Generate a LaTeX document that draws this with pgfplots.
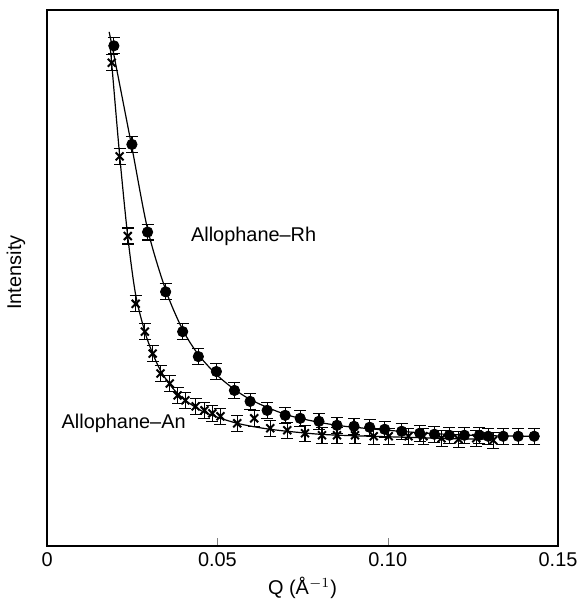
\documentclass[border=0pt]{standalone}
\usepackage{fontspec}
\setmainfont{Liberation Sans}
\usepackage{pgfplots}
\pgfplotsset{compat=1.18}

% values in arbitrary intensity units
\pgfplotstableread{
q       I
0.0196  502
0.0249  403
0.0295  315
0.0348  255
0.0398  215
0.0444  190
0.0497  175
0.0550  156
0.0596  145
0.0646  136
0.0699  131
0.0743  128
0.0798  125
0.0851  121
0.0901  120
0.0947  119
0.0991  117
0.1041  115
0.1094  113
0.1137  112
0.1181  111
0.1225  111
0.1269  111
0.1295  110
0.1339  110
0.1383  110
0.1430  110
}\rh

\pgfplotstableread{
q       I
0.0190  485
0.0213  391
0.0237  311
0.0260  243
0.0287  215
0.0310  193
0.0333  173
0.0360  163
0.0383  151
0.0406  146
0.0436  140
0.0462  136
0.0485  133
0.0509  130
0.0558  123
0.0608  128
0.0655  118
0.0705  116
0.0757  113
0.0807  111
0.0851  111
0.0904  111
0.0959  110
0.1003  110
0.1061  110
0.1105  110
0.1158  108
0.1208  107
0.1260  108
0.1310  106
}\an

\pgfplotstableread{
q       I
0.0182  516
0.0196  493
0.0249  400
0.0295  318
0.0348  257
0.0398  217
0.0444  192
0.0497  172
0.0550  157
0.0596  147
0.0646  139
0.0699  132
0.0743  128
0.0798  124
0.0851  121
0.0901  119
0.1000  116
0.1094  113.5
0.1200  111.5
0.1300  110.5
0.1430  110
}\rhfit

\pgfplotstableread{
q       I
0.0184  505
0.0190  483
0.0213  392
0.0237  310
0.0260  252
0.0287  215
0.0310  193
0.0333  176
0.0360  162
0.0383  153
0.0406  146
0.0436  139
0.0462  134
0.0485  131
0.0509  128
0.0558  123
0.0608  119.5
0.0655  117
0.0705  115
0.0800  112
0.0900  110.5
0.1000  109.5
0.1100  108.5
0.1200  107.5
0.1310  107
}\anfit

\begin{document}
\begin{tikzpicture}
\begin{axis}[
    scale only axis,
    width=256.5pt,
    height=269pt,
    xmin=0, xmax=0.15,
    ymin=0, ymax=538,
    axis line style={line width=0.8pt},
    xtick={0,0.05,0.10,0.15},
    xticklabels={0,0.05,0.10,0.15},
    xtick align=inside,
    xtick pos=bottom,
    major tick length=4pt,
    ytick=\empty,
    xlabel={Q (Å$^{-1}$)},
    ylabel={Intensity},
    xlabel style={at={(axis description cs:0.5,-0.078)}, anchor=center},
    ylabel style={at={(axis description cs:-0.061,0.51)}, anchor=center},
    every tick label/.append style={font=\normalsize},
    label style={font=\normalsize},
    clip=false,
]
\addplot[black, line width=0.6pt, smooth, tension=0.5] table[x=q,y=I] {\rhfit};
\addplot[black, line width=0.6pt, smooth, tension=0.5] table[x=q,y=I] {\anfit};

\addplot[only marks, mark=*, mark size=2.6pt, black,
    error bars/.cd, y dir=both, y fixed=8,
    error bar style={line width=0.6pt},
    error mark options={rotate=90, mark size=3pt, line width=0.6pt}]
    table[x=q,y=I] {\rh};
\addplot[only marks, mark=x, mark size=2.8pt, black, line width=1pt,
    error bars/.cd, y dir=both, y fixed=8,
    error bar style={line width=0.6pt},
    error mark options={rotate=90, mark size=3pt, line width=0.6pt}]
    table[x=q,y=I] {\an};

\node[anchor=west, font=\normalsize] at (axis cs:0.0402,311) {Allophane--Rh};
\node[anchor=west, font=\normalsize] at (axis cs:0.0022,123) {Allophane--An};
\end{axis}
\path ([yshift=5pt]current axis.north);
\end{tikzpicture}
\end{document}
